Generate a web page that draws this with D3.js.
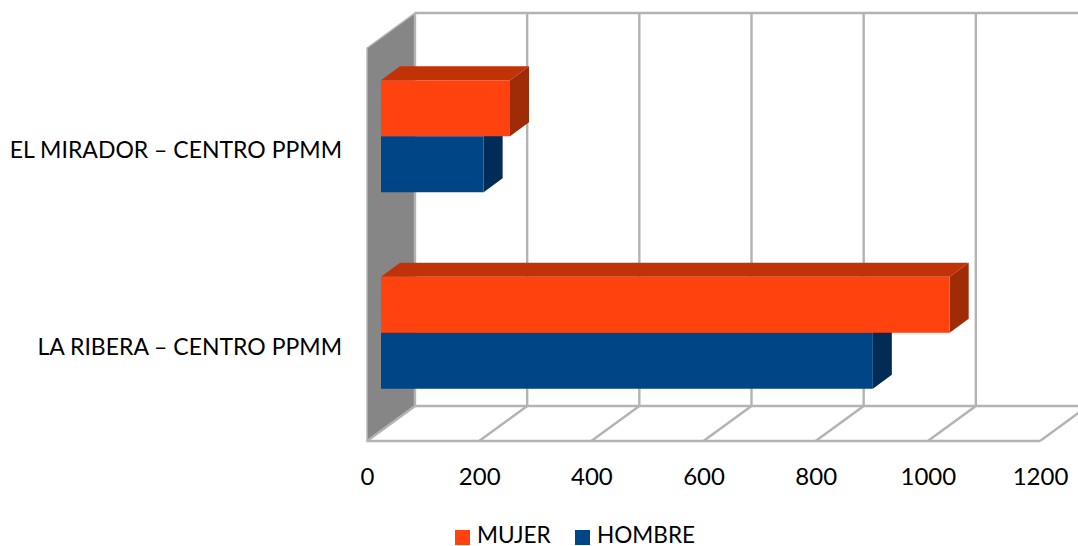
<!DOCTYPE html>
<html><head><meta charset="utf-8">
<script src="https://cdn.jsdelivr.net/npm/d3@7/dist/d3.min.js"></script>
<style>html,body{margin:0;padding:0;background:#fff}svg{display:block}text{font-family:Lato,"Open Sans",sans-serif;fill:#000}</style>
</head><body><div id="c"></div>
<script>
const categories = ["EL MIRADOR – CENTRO PPMM", "LA RIBERA – CENTRO PPMM"];
const mujer = [230, 1014];
const hombre = [183, 877];
const seriesNames = ["MUJER", "HOMBRE"];
const tickValues = [0, 200, 400, 600, 800, 1000, 1200];

const W = 1078, H = 546;
const svg = d3.select("#c").append("svg").attr("width", W).attr("height", H);
const x = d3.scaleLinear().domain([0, 1200]).range([367, 1040]);
const y = d3.scaleBand().domain(categories).range([48, 441]);
const depth = {dx: 48, dy: -35};
const barOff = {dx: 14, dy: -10};
const barDepth = {dx: 19, dy: -14};
const barH = 56;
const colors = {
  MUJER: {front: "#ff420e", top: "#c23208", side: "#a02c07"},
  HOMBRE: {front: "#004586", top: "#00315f", side: "#002c56"}
};
const grid = "#b3b3b3";
const poly = p => p.map(q => q.join(",")).join(" ");
const top0 = y.range()[0], bot0 = y.range()[1];

// wall
svg.append("polygon").attr("points", poly([
  [x(0), top0], [x(0) + depth.dx, top0 + depth.dy],
  [x(0) + depth.dx, bot0 + depth.dy], [x(0), bot0]
])).attr("fill", "#868686").attr("stroke", "#b9b9b9").attr("stroke-width", 1.5);

// back wall grid + floor
const g = svg.append("g").attr("fill", "none").attr("stroke", grid).attr("stroke-width", 2.4);
g.selectAll(".v").data(tickValues).join("line")
  .attr("x1", d => x(d) + depth.dx).attr("x2", d => x(d) + depth.dx)
  .attr("y1", top0 + depth.dy).attr("y2", bot0 + depth.dy);
g.selectAll(".f").data(tickValues).join("line")
  .attr("x1", d => x(d)).attr("x2", d => x(d) + depth.dx)
  .attr("y1", bot0).attr("y2", bot0 + depth.dy);
g.append("line").attr("x1", x(0) + depth.dx).attr("x2", x(1200) + depth.dx).attr("y1", top0 + depth.dy).attr("y2", top0 + depth.dy);
g.append("line").attr("x1", x(0) + depth.dx).attr("x2", x(1200) + depth.dx).attr("y1", bot0 + depth.dy).attr("y2", bot0 + depth.dy);
g.append("line").attr("x1", x(0)).attr("x2", x(1200)).attr("y1", bot0).attr("y2", bot0);

// bars
function bar(value, cat, name, offsetTop) {
  const c = colors[name];
  const x0 = x(0) + barOff.dx, x1 = x(value) + barOff.dx;
  const yc = y(cat) + y.bandwidth() / 2 + barOff.dy;
  const y0 = yc + offsetTop, y1 = y0 + barH;
  const b = svg.append("g");
  b.append("polygon").attr("fill", c.top).attr("points", poly([
    [x0, y0], [x0 + barDepth.dx, y0 + barDepth.dy], [x1 + barDepth.dx, y0 + barDepth.dy], [x1, y0]]));
  b.append("polygon").attr("fill", c.side).attr("points", poly([
    [x1, y0], [x1 + barDepth.dx, y0 + barDepth.dy], [x1 + barDepth.dx, y1 + barDepth.dy], [x1, y1]]));
  b.append("rect").attr("x", x0).attr("y", y0).attr("width", x1 - x0).attr("height", barH).attr("fill", c.front);
}
categories.forEach((cat, i) => {
  bar(hombre[i], cat, "HOMBRE", 0);
  bar(mujer[i], cat, "MUJER", -barH);
});

// x axis labels
const axisG = svg.append("g").attr("transform", `translate(0,${bot0 + 38})`)
  .call(d3.axisBottom(x).tickValues(tickValues).tickSize(0).tickPadding(0).tickFormat(d3.format("d")));
axisG.select(".domain").remove();
axisG.selectAll("text").attr("font-size", 24).attr("dy", "0.0em").attr("y", 0).attr("dominant-baseline", "middle")
  .style("font-family", "Lato,'Open Sans',sans-serif").attr("fill", "#000");

// y labels
svg.append("g").selectAll("text").data(categories).join("text")
  .attr("x", 342).attr("y", d => y(d) + y.bandwidth() / 2 + 6)
  .attr("text-anchor", "end").attr("dominant-baseline", "middle").attr("font-size", 23).text(d => d);

// legend
const legX = [455, 575];
const leg = svg.append("g");
seriesNames.forEach((n, i) => {
  leg.append("rect").attr("x", legX[i]).attr("y", 530).attr("width", 15).attr("height", 15).attr("fill", colors[n].front);
  leg.append("text").attr("x", legX[i] + 22).attr("y", 537).attr("dominant-baseline", "middle").attr("font-size", 22.6).text(n);
});
</script></body></html>
